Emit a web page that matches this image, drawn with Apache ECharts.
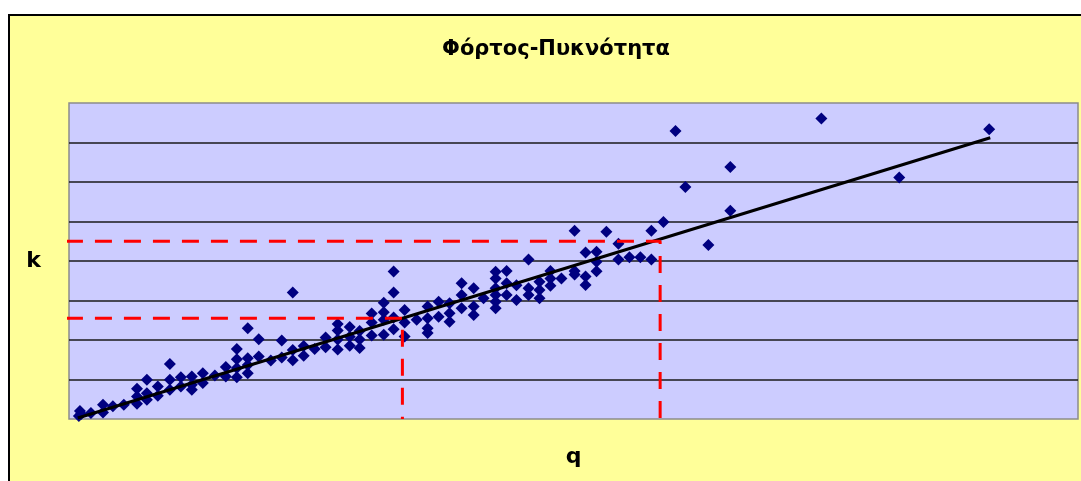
<!DOCTYPE html>
<html>
<head>
<meta charset="utf-8">
<title>Φόρτος-Πυκνότητα</title>
<script src="https://cdn.jsdelivr.net/npm/echarts@6/dist/echarts.min.js"></script>
<style>
  html, body { margin: 0; padding: 0; background: #ffffff; overflow: hidden; }
  #frame {
    position: absolute; left: 8px; top: 14px; width: 1100px; height: 500px;
    background: #FFFF99; border-left: 2px solid #000; border-top: 2px solid #000;
  }
  #chart { position: absolute; left: 0; top: 0; width: 1081px; height: 481px; }
</style>
</head>
<body>
<div id="frame"></div>
<div id="chart"></div>
<script>
// Observed flow (q) / density (k) pairs
const flowDensity = [
  [45,1.5],[50,4],[55,2.5],
  [100,3],
  [155,7.2],[155,3.3],
  [200,6.4],
  [250,7.2],
  [310,15.3],[310,11.4],[310,7.7],
  [355,19.9],[355,13.1],[355,9.8],
  [405,16.5],[405,11.8],
  [460,27.9],[460,19.9],[460,14.8],
  [510,21.2],[510,16.5],
  [560,21.5],[560,17.3],[560,14.8],
  [610,23.2],[610,18.2],
  [665,22],
  [715,26.3],[715,21.5],
  [765,35.4],[765,30.3],[765,25.8],[765,21.2],
  [815,46],[815,30.8],[815,27.4],[815,23.2],
  [865,40.4],[865,31.6],
  [920,29.6],
  [970,39.7],[970,31.1],
  [1020,64],[1020,35],[1020,29.8],
  [1070,36.9],[1070,32],
  [1120,35.4],
  [1170,41.3],[1170,36.3],
  [1225,48.1],[1225,44.8],[1225,40.3],[1225,35.2],
  [1280,46.6],[1280,41.7],[1280,37.1],
  [1325,44.5],[1325,40.2],[1325,35.9],
  [1380,53.4],[1380,48.9],[1380,42.3],
  [1435,58.8],[1435,54],[1435,50.2],[1435,42.6],
  [1480,74.7],[1480,64],[1480,51.4],[1480,45.5],
  [1530,55.2],[1530,48.9],[1530,41.8],
  [1585,50.2],
  [1635,56.9],[1635,51],[1635,46],[1635,43.5],
  [1685,59.4],[1685,51.8],
  [1735,58.6],[1735,53.6],[1735,49.3],
  [1790,68.7],[1790,62.8],[1790,56.1],
  [1845,66.2],[1845,56.9],[1845,52.7],
  [1890,61.1],
  [1945,74.6],[1945,71.2],[1945,66.2],[1945,62.8],[1945,59.4],[1945,56.1],
  [1995,74.9],[1995,68.7],[1995,62.8],
  [2040,67.7],[2040,60.3],
  [2095,80.8],[2095,66.2],[2095,62.8],
  [2145,69.5],[2145,65.3],[2145,61.1],
  [2195,75],[2195,71.2],[2195,67.5],
  [2245,71.2],
  [2305,95.3],[2305,75],[2305,73.2],
  [2355,84.3],[2355,72.1],[2355,67.9],
  [2405,84.7],[2405,79.6],[2405,74.8],
  [2450,94.8],
  [2505,88.7],[2505,80.8],
  [2555,81.9],
  [2605,81.9],
  [2655,95.3],[2655,80.8],
  [2710,99.8],
  [2765,145.8],
  [2810,117.5],
  [2915,88.1],
  [3015,127.6],[3015,105.4],
  [3430,152.1],
  [3785,122.3],
  [4195,146.7]
];

// Linear trend line end points
const trendQ = [40, 4200];
const trendK = [0.5, 142.4];

// Reference readings
const refQ = [1520, 2695];
const refK = [51, 90];
const refStartQ = -14;

// Axis ranges (no tick labels shown)
const qRange = [0, 4600];
const kRange = [0, 160];
const kStep = 20;

function refPath(i) {
  return [[refStartQ, refK[i]], [refQ[i], refK[i]], [refQ[i], kRange[0]]];
}

const chart = echarts.init(document.getElementById('chart'), null, { renderer: 'canvas' });

const labelFont = { fontFamily: 'DejaVu Sans', fontWeight: 'bold', color: '#000' };

const redDash = {
  type: 'line', symbol: 'none', clip: false, silent: true, z: 4,
  lineStyle: { color: '#FF0000', width: 3, type: [17, 12] }
};

chart.setOption({
  backgroundColor: 'transparent',
  animation: false,
  title: {
    text: 'Φόρτος-Πυκνότητα',
    left: 551, top: 34, textAlign: 'center',
    textStyle: Object.assign({ fontSize: 21 }, labelFont)
  },
  grid: {
    left: 69, top: 103, right: 3, bottom: 62,
    show: true, backgroundColor: '#CCCCFF', borderColor: '#8C8C8C', borderWidth: 1.5
  },
  xAxis: {
    type: 'value', min: qRange[0], max: qRange[1],
    name: 'q', nameLocation: 'middle', nameGap: 27,
    nameTextStyle: Object.assign({ fontSize: 22 }, labelFont),
    axisLine: { show: false }, axisTick: { show: false }, axisLabel: { show: false },
    splitLine: { show: false }
  },
  yAxis: {
    type: 'value', min: kRange[0], max: kRange[1], interval: kStep,
    name: 'k', nameLocation: 'middle', nameRotate: 0, nameGap: 28,
    nameTextStyle: Object.assign({ fontSize: 22, padding: [8, 0, 0, 0] }, labelFont),
    axisLine: { show: false }, axisTick: { show: false }, axisLabel: { show: false },
    splitLine: { show: true, showMinLine: false, showMaxLine: false,
      lineStyle: { color: '#1a1a1a', width: 1.6 } }
  },
  series: [
    {
      type: 'scatter', data: flowDensity, symbol: 'diamond', symbolSize: 12, z: 2,
      itemStyle: { color: '#000080', opacity: 1 }
    },
    {
      type: 'line', symbol: 'none', z: 3, silent: true,
      data: trendQ.map((q, i) => [q, trendK[i]]),
      lineStyle: { color: '#000', width: 3 }
    },
    Object.assign({ data: refPath(0) }, redDash),
    Object.assign({ data: refPath(1) }, redDash)
  ]
});
</script>
</body>
</html>
